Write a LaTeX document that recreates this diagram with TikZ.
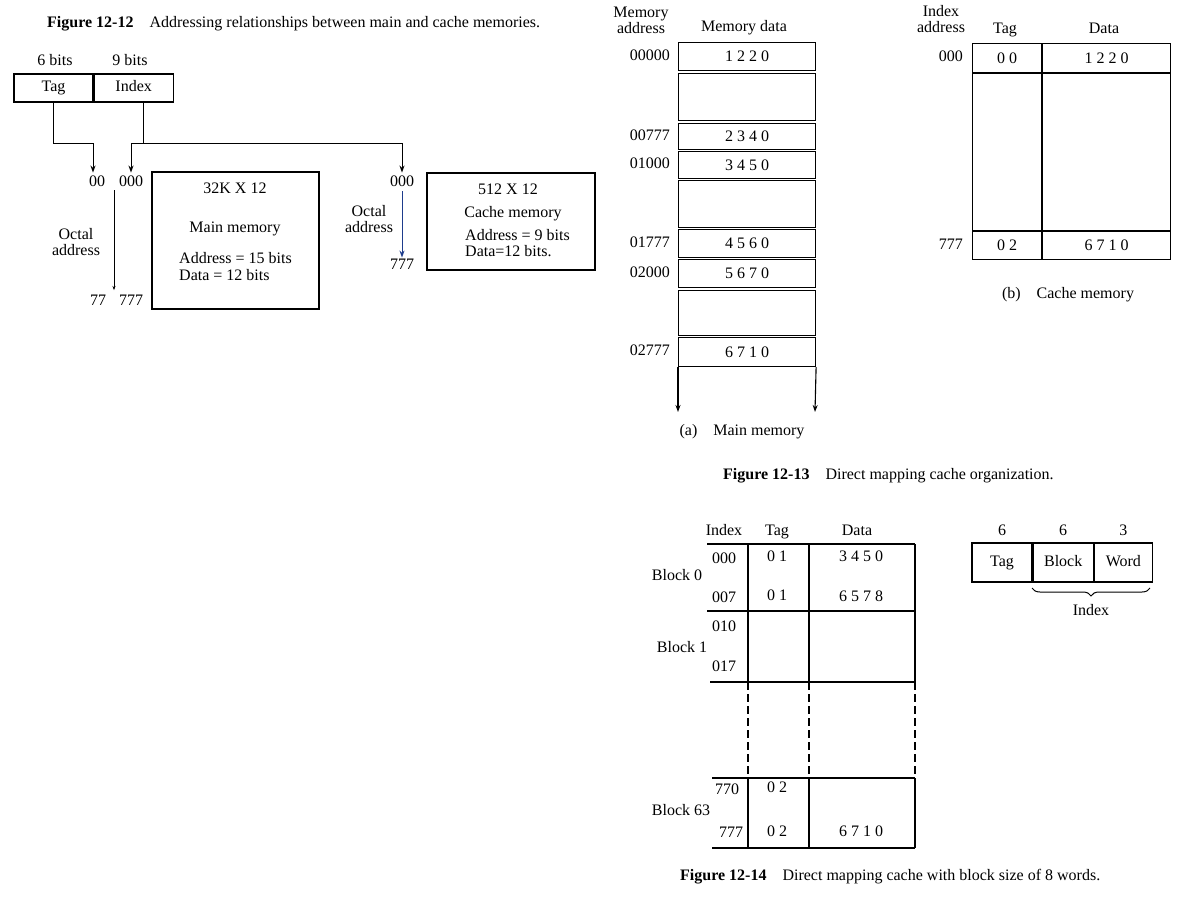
\documentclass[tikz,border=0pt]{standalone}
\usepackage{fontspec}
\setmainfont{Liberation Serif}
\usetikzlibrary{shapes,arrows,arrows.meta,positioning,decorations.pathreplacing}
\definecolor{octblue}{RGB}{30,60,140}
\tikzstyle{invis} = [draw=none, inner sep=1pt, text height=11pt, text depth=3.5pt]
\tikzstyle{wire} = [line width=1pt]
\tikzstyle{field} = [draw, line width=1.2pt, minimum height=28, inner sep=0pt, text height=11pt, text depth=3.5pt]
\tikzstyle{membox} = [draw, line width=1.6pt]
\tikzstyle{row} = [draw, line width=1.1pt, minimum width=137, minimum height=28, inner sep=0pt, anchor=north west]
\tikzstyle{gap} = [row, minimum height=47]
\tikzstyle{grid} = [line width=1.1pt]

\begin{document}
\begin{tikzpicture}[>={Stealth[length=7pt,width=5pt]},x=1pt,y=-1pt,font=\fontsize{16}{16}\selectfont]
\useasboundingbox (0,0) rectangle (1187,898);

% Figure 12-12
\node[invis, anchor=west] (cap12) at (46,24) {\textbf{Figure 12-12}\quad Addressing relationships between main and cache memories.};
\node[field, minimum width=79] (tag) at (53.5,88) {Tag};
\node[field, minimum width=79, right=0pt of tag] (index) {Index};
\node[invis] (tagbits) at (55,62) {6 bits};
\node[invis] (indexbits) at (130,62) {9 bits};

\node[invis] (mtag0) at (97,183) {00};
\node[invis] (midx0) at (131,183) {000};
\node[invis] (mtag1) at (98,302) {77};
\node[invis] (midx1) at (131,302) {777};
\node[invis, align=center, text height=, text depth=] (moct) at (76,242) {Octal\\address};
\coordinate (mtop) at (114,190);
\coordinate (mbot) at (114,290);

\node[membox, minimum width=167, minimum height=137] (mainmem) at (235.5,240.5) {};
\node[invis] (msize) at (235,190) {32K X 12};
\node[invis] (mname) at (235,229) {Main memory};
\node[invis, anchor=west] (maddr) at (178,260) {Address = 15 bits};
\node[invis, anchor=west] (mdata) at (178,277) {Data = 12 bits};

\node[invis] (cidx0) at (402,183) {000};
\node[invis] (cidx1) at (402,266) {777};
\node[invis, align=center, text height=, text depth=] (coct) at (369,219) {Octal\\address};
\node[membox, minimum width=168, minimum height=97] (cachemem) at (511,221.5) {};
\node[invis] (csize) at (508,191) {512 X 12};
\node[invis] (cname) at (513,214) {Cache memory};
\node[invis, anchor=west] (caddr) at (464,237) {Address = 9 bits};
\node[invis, anchor=west] (cdata) at (464,253) {Data=12 bits.};

\coordinate (tagbend) at (93,143);
\coordinate (ixbus) at (143,143);
\draw[wire,->,shorten >=2pt] (tag.south) |- (tagbend) -- (tagbend |- mtag0.north);
\draw[wire] (ixbus |- index.south) -- (ixbus);
\draw[wire,->,shorten >=2pt] (ixbus) -| (midx0.north);
\draw[wire,->,shorten >=2pt] (ixbus) -| (cidx0.north);
\draw[thin,-{Stealth[length=4pt,width=3pt]}] (mtop) -- (mbot);
\draw[wire,->,draw=octblue] (cidx0.south) -- (cidx1.north);

% Figure 12-13 (a)
\node[invis, align=center, text height=, text depth=] (haddr) at (641,20) {Memory\\address};
\node[invis] (hdata) at (744,28) {Memory data};
\node[row] (r0) at (678,42) {1 2 2 0};
\node[gap] (g0) at (678,73) {};
\node[row, minimum height=26] (r1) at (678,123) {2 3 4 0};
\node[row, minimum height=27] (r2) at (678,151) {3 4 5 0};
\node[gap] (g1) at (678,180) {};
\node[row] (r3) at (678,229) {4 5 6 0};
\node[row] (r4) at (678,259) {5 6 7 0};
\node[gap, minimum height=45] (g2) at (678,290) {};
\node[row, minimum height=29] (r5) at (678,337) {6 7 1 0};
\node[invis, left=7pt of r0] (a0) {00000};
\node[invis, left=7pt of r1] (a1) {00777};
\node[invis, left=7pt of r2] (a2) {01000};
\node[invis, left=7pt of r3] (a3) {01777};
\node[invis, left=7pt of r4] (a4) {02000};
\node[invis, left=7pt of r5] (a5) {02777};
\coordinate (mlend) at (678,412);
\coordinate (mrend) at (815,412);
\draw[grid,->] (r5.south west) -- (mlend);
\draw[grid,->] (r5.south east) -- (mrend);
\node[invis] (capa) at (742,432) {(a)\quad Main memory};

% Figure 12-13 (b)
\node[invis, align=center, text height=, text depth=] (hidx) at (941,19) {Index\\address};
\node[invis] (htag) at (1005,30) {Tag};
\node[invis] (hcdata) at (1104,30) {Data};
\node[row, minimum width=69, minimum height=29] (ct0) at (972,43) {0 0};
\node[row, minimum width=128, minimum height=29, right=0pt of ct0] (cd0) {1 2 2 0};
\node[row, minimum width=69, minimum height=157, below=0pt of ct0] (ct1) {};
\node[row, minimum width=128, minimum height=157, right=0pt of ct1] (cd1) {};
\node[row, minimum width=69, minimum height=28, below=0pt of ct1] (ct2) {0 2};
\node[row, minimum width=128, minimum height=28, right=0pt of ct2] (cd2) {6 7 1 0};
\node[invis, left=8pt of ct0] (ci0) {000};
\node[invis, left=8pt of ct2] (ci1) {777};
\node[invis] (capb) at (1068,295) {(b)\quad Cache memory};
\node[invis, anchor=west] (cap13) at (722,476) {\textbf{Figure 12-13}\quad Direct mapping cache organization.};

% Figure 12-14
\node[invis] (hbidx) at (724,532) {Index};
\node[invis] (hbtag) at (777,532) {Tag};
\node[invis] (hbdata) at (857,532) {Data};
\draw[grid] (707,544) -- (915,544);
\draw[grid] (707,611) -- (915,611);
\draw[grid, line width=1.5pt] (710,682) -- (915,682);
\draw[grid] (712,778) -- (915,778);
\draw[grid] (712,848) -- (915,848);
\draw[grid] (748,544) -- (748,682) (809,544) -- (809,682) (915,544) -- (915,682);
\draw[grid, dash pattern=on 8pt off 4pt] (748,682) -- (748,778) (809,682) -- (809,778) (915,682) -- (915,778);
\draw[grid] (748,778) -- (748,848) (809,778) -- (809,848) (915,778) -- (915,848);

\node[invis] (b0a) at (724,560) {000};
\node[invis] (b0t) at (777,558) {0 1};
\node[invis] (b0d) at (861,558) {3 4 5 0};
\node[invis] (b0b) at (724,599) {007};
\node[invis] (b0u) at (777,597) {0 1};
\node[invis] (b0e) at (861,598) {6 5 7 8};
\node[invis] (blk0) at (677,577) {Block 0};
\node[invis] (b1a) at (724,628) {010};
\node[invis] (blk1) at (682,649) {Block 1};
\node[invis] (b1b) at (724,668) {017};
\node[invis] (b63a) at (727,791) {770};
\node[invis] (b63t) at (777,789) {0 2};
\node[invis] (blk63) at (681,812) {Block 63};
\node[invis] (b63b) at (731,834) {777};
\node[invis] (b63u) at (777,833) {0 2};
\node[invis] (b63d) at (861,833) {6 7 1 0};
\node[invis, anchor=west] (cap14) at (679,877) {\textbf{Figure 12-14}\quad Direct mapping cache with block size of 8 words.};

\node[field, minimum width=60, minimum height=39] (ftag) at (1002,562.5) {Tag};
\node[field, minimum width=60, minimum height=39, right=0pt of ftag] (fblock) {Block};
\node[field, minimum width=58, minimum height=39, right=0pt of fblock] (fword) {Word};
\node[invis, above=2pt of ftag] (ntag) {6};
\node[invis, above=2pt of fblock] (nblock) {6};
\node[invis, above=2pt of fword] (nword) {3};
\coordinate (brl) at (1032,588);
\coordinate (brr) at (1150,588);
\draw[wire, decorate, decoration={brace,mirror,amplitude=8pt}] (brl) -- (brr);
\node[invis] (idxlbl) at (1091,612) {Index};

\end{tikzpicture}
\end{document}
